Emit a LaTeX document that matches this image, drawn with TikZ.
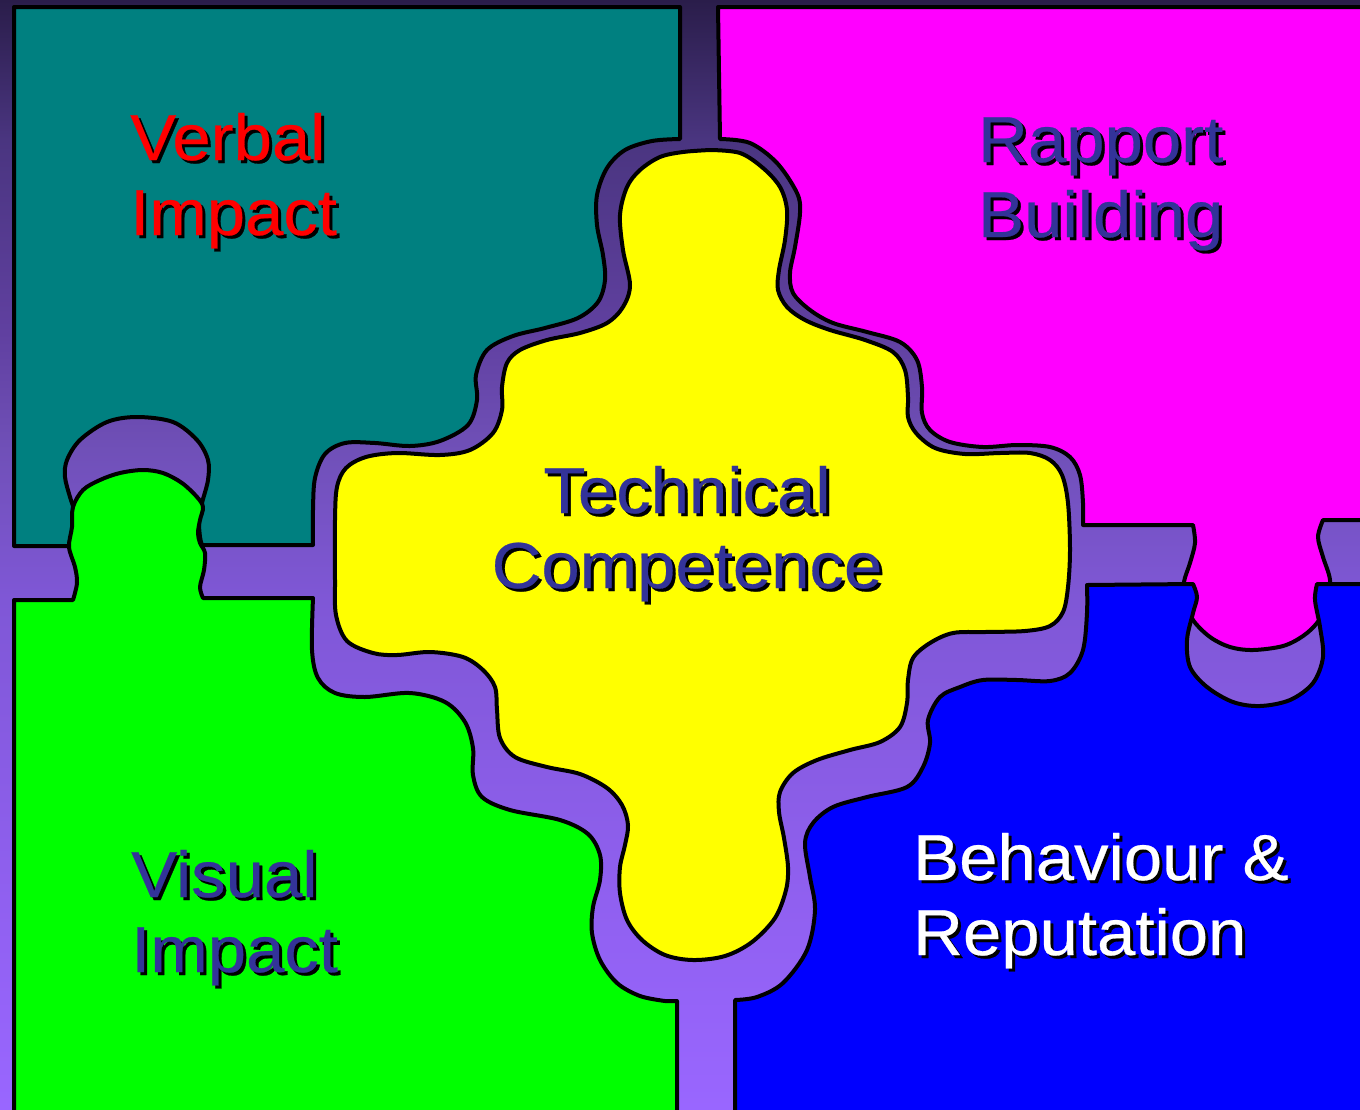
\documentclass[tikz,border=0pt]{standalone}
\usepackage{fontspec}
\setmainfont{Liberation Sans}[FakeStretch=1.06, FakeBold=0.4]
\definecolor{bg0}{RGB}{42,29,74}
\definecolor{bg1}{RGB}{74,53,128}
\definecolor{bg2}{RGB}{96,64,160}
\definecolor{bg3}{RGB}{112,80,184}
\definecolor{bg4}{RGB}{127,87,214}
\definecolor{bg5}{RGB}{144,96,240}
\definecolor{bg6}{RGB}{153,102,255}
\definecolor{tealp}{RGB}{0,128,128}
\definecolor{magp}{RGB}{255,0,255}
\definecolor{yelp}{RGB}{255,255,0}
\definecolor{grnp}{RGB}{0,255,0}
\definecolor{blup}{RGB}{0,0,255}
\definecolor{txtblue}{RGB}{51,51,153}
\pgfdeclareverticalshading{bgshade}{100bp}{color(0bp)=(bg6); color(25bp)=(bg6); color(34.4bp)=(bg5); color(48bp)=(bg4); color(54.7bp)=(bg3); color(60bp)=(bg2); color(68.7bp)=(bg1); color(75bp)=(bg0); color(100bp)=(bg0)}
\newcommand\shadowed[1]{\makebox[0pt][l]{\hspace{3pt}\raisebox{-3pt}{\color{black}#1}}#1}
\begin{document}
\begin{tikzpicture}[x=1pt,y=-1pt,
  piece/.style={draw=black, line width=4pt, line join=round},
  lbl/.style={anchor=base west, inner sep=0pt, font=\fontsize{65}{75}\selectfont},
  lblc/.style={anchor=base, inner sep=0pt, font=\fontsize{65}{75}\selectfont},
  smoothp/.style={smooth, tension=0.55}]
\useasboundingbox (0,0) rectangle (1360,1109);
\clip (0,0) rectangle (1360,1109);
\shade[shading=bgshade] (0,0) rectangle (1360,1109);
% teal piece
\path[piece, fill=tealp] (14,7) -- (680,7) -- (680,139) -- plot[smoothp] coordinates {(680,139) (652,141) (625,150) (607,168) (597,195) (597,225) (603,255) (605,280) (598,302) (578,318) (545,328) (513,336) (487,350) (476,375) (477,400) (468,425) (440,441) (410,446) (375,443) (345,443) (325,454) (315,478) (313,510) (313,545)} -- (202,545) -- plot[smoothp] coordinates {(202,545) (200,537) (199,520) (202,503) (208,480) (208,460) (197,440) (173,422) (137,417) (107,422) (80,440) (67,460) (65,477) (70,497) (75,513) (77,533) (73,546)} -- (14,546) -- cycle;
% green piece
\path[piece, fill=grnp] (14,1120) -- (14,600) -- (73,600) -- plot[smoothp] coordinates {(73,600) (77,583) (75,567) (69,547) (72,527) (73,507) (83,490) (100,480) (120,473) (143,470) (163,473) (182,483) (197,497) (203,507) (200,520) (198,533) (200,543) (205,553) (204,570) (200,587) (203,598)} -- (313,598) -- plot[smoothp] coordinates {(313,598) (312,650) (318,678) (335,693) (365,697) (410,693) (445,702) (465,722) (473,748) (473,775) (482,797) (510,810) (560,820) (588,834) (600,855) (600,880) (593,907) (592,933) (600,960) (617,983) (640,996) (665,1001)} -- (677,1001) -- (677,1120) -- cycle;
% magenta piece
\path[piece, fill=magp] (718,7) -- (1370,7) -- (1370,520) -- (1323,520) -- plot[smoothp] coordinates {(1323,520) (1318,537) (1323,557) (1330,580) (1328,605) (1317,623) (1303,636) (1283,646) (1253,650) (1230,647) (1210,637) (1193,620) (1185,600) (1184,582) (1190,563) (1195,543) (1193,525)} -- (1083,525) -- plot[smoothp] coordinates {(1083,525) (1083,503) (1080,475) (1070,457) (1050,447) (1017,445) (983,447) (950,442) (930,430) (922,413) (922,387) (917,360) (900,342) (867,332) (833,323) (810,310) (793,293) (790,273) (795,247) (800,213) (797,193) (777,163) (750,143) (720,139)} -- cycle;
% blue piece
\path[piece, fill=blup] (735,1120) -- (735,1000) -- plot[smoothp] coordinates {(735,1000) (757,997) (783,983) (807,950) (815,910) (810,877) (805,843) (813,823) (833,807) (867,797) (907,787) (923,767) (930,743) (928,720) (940,697) (960,687) (983,680) (1017,680) (1050,681) (1070,673) (1083,650) (1087,613) (1087,585)} -- (1193,584) -- plot[smoothp] coordinates {(1193,584) (1197,597) (1193,613) (1187,640) (1190,667) (1207,687) (1233,702) (1260,706) (1290,700) (1313,683) (1323,657) (1320,627) (1315,600) (1317,584)} -- (1370,584) -- (1370,1120) -- cycle;
% yellow piece
\path[piece, fill=yelp] plot[smoothp] coordinates {(710,150) (740,153) (763,168) (780,187) (787,210) (785,240) (779,270) (778,290) (787,307) (805,320) (830,330) (865,340) (893,352) (905,370) (908,397) (908,417) (916,433) (935,448) (965,454) (1000,453) (1030,453) (1050,460) (1062,475) (1068,503) (1070,550) (1068,587) (1063,612) (1050,626) (1025,631) (985,632) (953,633) (930,643) (913,658) (908,680) (907,703) (900,727) (880,742) (850,750) (817,760) (793,773) (780,792) (779,812) (784,838) (788,867) (786,890) (775,918) (752,942) (725,956) (693,960) (665,955) (642,940) (627,920) (620,893) (620,867) (625,845) (628,825) (622,805) (607,788) (580,774) (547,767) (515,757) (500,738) (497,710) (495,687) (483,670) (463,657) (430,652) (397,655) (373,653) (347,641) (336,615) (335,580) (335,520) (337,487) (346,468) (366,457) (397,453) (440,455) (470,450) (493,433) (502,410) (502,387) (507,363) (520,350) (547,340) (580,333) (607,323) (623,307) (630,285) (623,250) (620,215) (627,187) (640,170) (660,157) (683,152) (710,150)} -- cycle;
% labels
\node[lbl, text=red] (verbal) at (130,160) {\shadowed{Verbal}};
\node[lbl, text=red] (verbalimpact) at (130,235) {\shadowed{Impact}};
\node[lbl, text=txtblue] (rapport) at (978,162) {\shadowed{Rapport}};
\node[lbl, text=txtblue] (building) at (978,237) {\shadowed{Building}};
\node[lblc, text=txtblue] (technical) at (687,513) {\shadowed{Technical}};
\node[lblc, text=txtblue] (competence) at (687,588) {\shadowed{Competence}};
\node[lbl, text=txtblue] (visual) at (131,897) {\shadowed{Visual}};
\node[lbl, text=txtblue] (visualimpact) at (131,972) {\shadowed{Impact}};
\node[lbl, text=white] (behaviour) at (913,880) {\shadowed{Behaviour \&}};
\node[lbl, text=white] (reputation) at (913,955) {\shadowed{Reputation}};
\end{tikzpicture}
\end{document}
